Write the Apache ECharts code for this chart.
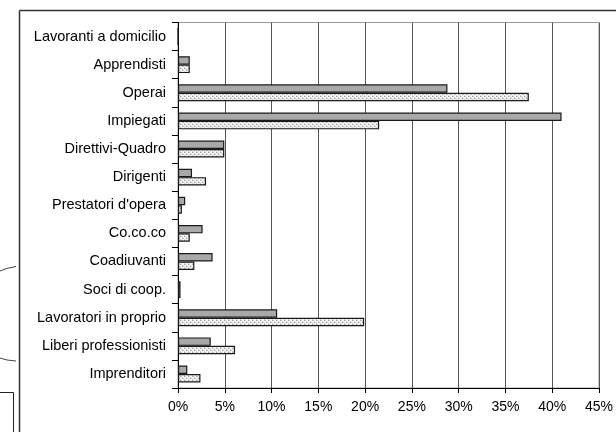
<!DOCTYPE html>
<html>
<head>
<meta charset="utf-8">
<script src="https://cdn.jsdelivr.net/npm/echarts@6/dist/echarts.min.js"></script>
<style>
  html, body { margin: 0; padding: 0; background: #fff; }
  #chart { width: 616px; height: 432px; }
</style>
</head>
<body>
<div id="chart"></div>
<script>
// categorie, dal basso verso l'alto
var categorie = ['Imprenditori', 'Liberi professionisti', 'Lavoratori in proprio', 'Soci di coop.',
    'Coadiuvanti', 'Co.co.co', "Prestatori d'opera", 'Dirigenti', 'Direttivi-Quadro',
    'Impiegati', 'Operai', 'Apprendisti', 'Lavoranti a domicilio'];
// barra grigia (sopra)
var serieGrigia = [1.0, 3.5, 10.6, 0.27, 3.7, 2.63, 0.77, 1.5, 4.95, 41.0, 28.8, 1.26, 0];
// barra punteggiata (sotto)
var seriePunti = [2.4, 6.1, 19.9, 0.27, 1.75, 1.26, 0.42, 3.0, 4.95, 21.5, 37.5, 1.26, 0];

// trama punteggiata
var pat = document.createElement('canvas');
pat.width = 4;
pat.height = 4;
var pc = pat.getContext('2d');
pc.fillStyle = '#f2f2f2';
pc.fillRect(0, 0, 4, 4);
pc.fillStyle = '#a8a8a8';
pc.fillRect(0, 0, 1, 1);
pc.fillRect(2, 2, 1, 1);
pc.fillStyle = '#cfcfcf';
pc.fillRect(1, 0, 1, 1);
pc.fillRect(3, 2, 1, 1);
pc.fillRect(2, 1, 1, 1);
pc.fillRect(0, 3, 1, 1);

var font = 'Liberation Sans, Arial, sans-serif';

var options = {
    animation: false,
    backgroundColor: '#fff',
    grid: {
        left: 178,
        right: 11.5,
        top: 22.5,
        bottom: 44,
        show: true,
        borderColor: '#999',
        borderWidth: 1
    },
    xAxis: {
        type: 'value',
        min: 0,
        max: 45,
        interval: 5,
        axisLine: { show: true, lineStyle: { color: '#000', width: 1 } },
        axisTick: { show: true, length: 5, lineStyle: { color: '#000' } },
        axisLabel: {
            formatter: '{value}%',
            color: '#000',
            fontFamily: font,
            fontSize: 14,
            margin: 12
        },
        splitLine: { show: true, lineStyle: { color: '#555', width: 1 } }
    },
    yAxis: {
        type: 'category',
        data: categorie,
        axisLine: { show: true, lineStyle: { color: '#000', width: 1 } },
        axisTick: { show: true, length: 6, lineStyle: { color: '#000' } },
        axisLabel: {
            color: '#000',
            fontFamily: font,
            fontSize: 14.5,
            margin: 12
        },
        splitLine: { show: false }
    },
    series: [
        {
            type: 'bar',
            data: serieGrigia,
            barGap: '0%',
            barCategoryGap: '40%',
            itemStyle: { color: '#a9a9a9', borderColor: '#1a1a1a', borderWidth: 1.2 }
        },
        {
            type: 'bar',
            data: seriePunti,
            barGap: '0%',
            barCategoryGap: '40%',
            itemStyle: {
                color: { image: pat, repeat: 'repeat' },
                borderColor: '#1a1a1a',
                borderWidth: 1.2
            }
        }
    ],
    graphic: [
        { type: 'line', shape: { x1: 19.5, y1: 10.5, x2: 616, y2: 10.5 }, style: { stroke: '#333', lineWidth: 1.5 } },
        { type: 'line', shape: { x1: 19.5, y1: 10.5, x2: 19.5, y2: 432 }, style: { stroke: '#333', lineWidth: 1.5 } },
        { type: 'bezierCurve', shape: { x1: 0, y1: 271, x2: 16, y2: 266.5, cpx1: 6, cpy1: 268 }, style: { stroke: '#444', lineWidth: 1, fill: null } },
        { type: 'bezierCurve', shape: { x1: 0, y1: 358, x2: 16, y2: 361, cpx1: 6, cpy1: 360.5 }, style: { stroke: '#444', lineWidth: 1, fill: null } },
        { type: 'polyline', shape: { points: [[0, 392.5], [13.5, 392.5], [13.5, 432]] }, style: { stroke: '#222', lineWidth: 1, fill: null } }
    ]
};

var myChart = echarts.init(document.getElementById('chart'));
myChart.setOption(options);
</script>
</body>
</html>
